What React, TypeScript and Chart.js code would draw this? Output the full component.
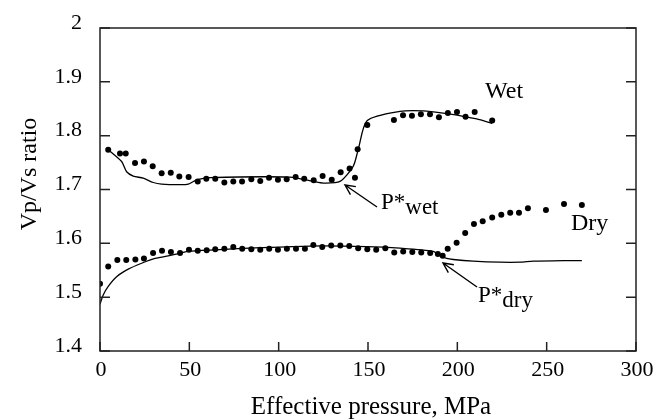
import React, { useEffect, useRef } from "react";
import { Chart, registerables } from "chart.js";

Chart.register(...registerables);

// Wet: measured points (dots)
const wetDotX = [4.6, 11.2, 14.4, 19.6, 24.6, 29.5, 34.5, 39.6, 44.4, 49.6, 54.7, 59.5, 64.5, 69.6, 74.6, 79.5, 84.7, 89.7, 94.6, 99.6, 104.5, 109.5, 114.3, 119.6, 124.6, 129.7, 134.7, 139.7, 142.7, 144.2, 149.6, 164.5, 169.6, 174.6, 179.6, 184.7, 189.7, 194.7, 199.8, 204.6, 209.7, 219.5];
const wetDotY = [1.774, 1.767, 1.767, 1.749, 1.752, 1.743, 1.730, 1.731, 1.724, 1.723, 1.715, 1.720, 1.720, 1.713, 1.715, 1.715, 1.719, 1.716, 1.722, 1.718, 1.719, 1.723, 1.720, 1.717, 1.725, 1.718, 1.732, 1.739, 1.722, 1.775, 1.820, 1.829, 1.838, 1.837, 1.840, 1.840, 1.834, 1.842, 1.844, 1.835, 1.844, 1.828];

// Wet: model curve
const wetLineX = [4.6, 12.1, 14.9, 18.6, 24.2, 29.8, 34.5, 44.8, 49.4, 54.1, 61.6, 106.3, 119.4, 125.0, 134.3, 141.7, 144.5, 149.6, 167.9, 180.9, 194.0, 203.3, 210.8, 219.5];
const wetLineY = [1.774, 1.752, 1.733, 1.725, 1.721, 1.713, 1.710, 1.709, 1.710, 1.718, 1.722, 1.723, 1.715, 1.712, 1.715, 1.743, 1.774, 1.828, 1.845, 1.846, 1.841, 1.836, 1.831, 1.823];

// Dry: measured points (dots)
const dryDotX = [0, 4.6, 9.7, 14.7, 19.8, 24.6, 29.7, 34.7, 39.7, 44.8, 49.8, 54.7, 59.7, 64.5, 69.6, 74.6, 79.6, 84.7, 89.7, 94.7, 99.6, 104.6, 109.7, 114.7, 119.4, 124.4, 129.4, 134.5, 139.5, 144.5, 149.6, 154.6, 159.7, 164.7, 169.7, 174.8, 179.8, 184.8, 189.1, 191.8, 194.6, 199.6, 204.4, 209.3, 214.2, 219.5, 224.6, 229.6, 234.5, 239.5, 249.6, 259.7, 269.7];
const dryDotY = [1.525, 1.557, 1.569, 1.569, 1.570, 1.572, 1.582, 1.586, 1.584, 1.582, 1.588, 1.586, 1.587, 1.589, 1.590, 1.593, 1.590, 1.589, 1.588, 1.590, 1.588, 1.590, 1.590, 1.590, 1.597, 1.593, 1.596, 1.596, 1.595, 1.591, 1.589, 1.588, 1.591, 1.583, 1.585, 1.584, 1.583, 1.582, 1.580, 1.577, 1.590, 1.601, 1.619, 1.636, 1.641, 1.648, 1.653, 1.657, 1.657, 1.665, 1.662, 1.673, 1.671];

// Dry: model curve
const dryLineX = [0, 1.8, 4.6, 9.3, 15.8, 23.3, 30.8, 40.1, 49.4, 64.4, 90.0, 117.5, 149.2, 167.9, 186.5, 190.3, 194.0, 197.7, 208.9, 223.8, 235.0, 242.5, 259.3, 269.7];
const dryLineY = [1.487, 1.504, 1.520, 1.538, 1.552, 1.563, 1.572, 1.578, 1.585, 1.588, 1.592, 1.595, 1.594, 1.591, 1.585, 1.577, 1.572, 1.570, 1.567, 1.565, 1.565, 1.567, 1.568, 1.568];

const xTicks = [0, 50, 100, 150, 200, 250, 300];
const yTicks = [1.4, 1.5, 1.6, 1.7, 1.8, 1.9, 2.0];

const zip = (xs: number[], ys: number[]) => xs.map((x, i) => ({ x, y: ys[i] }));

const SERIF = "'Liberation Serif', 'Times New Roman', serif";

const framePlugin = {
  id: "framePlugin",
  afterDraw(chart: any) {
    const ctx = chart.ctx;
    const { left, right, top, bottom } = chart.chartArea;
    const xs = chart.scales.x;
    const ys = chart.scales.y;
    ctx.save();
    ctx.strokeStyle = "#222";
    ctx.lineWidth = 1.5;
    ctx.strokeRect(left, top, right - left, bottom - top);
    ctx.beginPath();
    yTicks.forEach((v) => {
      const py = ys.getPixelForValue(v);
      ctx.moveTo(left, py);
      ctx.lineTo(left + 10, py);
      ctx.moveTo(right, py);
      ctx.lineTo(right - 10, py);
    });
    xTicks.forEach((v) => {
      const px = xs.getPixelForValue(v);
      ctx.moveTo(px, bottom);
      ctx.lineTo(px, bottom - 9);
    });
    ctx.stroke();

    // Axis titles
    ctx.fillStyle = "#000";
    ctx.font = `25px ${SERIF}`;
    ctx.textAlign = "center";
    ctx.textBaseline = "alphabetic";
    ctx.fillText("Effective pressure, MPa", 371, 414);
    ctx.font = `24px ${SERIF}`;
    ctx.save();
    ctx.translate(36, 174);
    ctx.rotate(-Math.PI / 2);
    ctx.fillText("Vp/Vs ratio", 0, 0);
    ctx.restore();

    // Labels
    ctx.textAlign = "left";
    ctx.font = `24px ${SERIF}`;
    ctx.fillText("Wet", 485, 98);
    ctx.fillText("Dry", 571, 230);

    const drawPStar = (x: number, y: number, sub: string, dy: number) => {
      ctx.font = `23px ${SERIF}`;
      ctx.fillText("P*", x, y);
      const w = ctx.measureText("P*").width;
      ctx.fillText(sub, x + w, y + dy);
    };
    drawPStar(381, 209, "wet", 5);
    drawPStar(478, 302, "dry", 5);

    // Arrows
    const arrow = (x1: number, y1: number, x2: number, y2: number) => {
      const a = Math.atan2(y2 - y1, x2 - x1);
      const h = 11;
      ctx.beginPath();
      ctx.moveTo(x1, y1);
      ctx.lineTo(x2, y2);
      ctx.moveTo(x2 - h * Math.cos(a - 0.45), y2 - h * Math.sin(a - 0.45));
      ctx.lineTo(x2, y2);
      ctx.lineTo(x2 - h * Math.cos(a + 0.45), y2 - h * Math.sin(a + 0.45));
      ctx.strokeStyle = "#000";
      ctx.lineWidth = 1.4;
      ctx.stroke();
    };
    arrow(377, 207, 345, 185);
    arrow(477, 287, 443, 263);
    ctx.restore();
  },
};

export default function App() {
  const ref = useRef<HTMLCanvasElement>(null);
  useEffect(() => {
    if (!ref.current) return;
    const lineDs = (label: string, data: any[]) => ({
      label,
      data,
      showLine: true,
      borderColor: "#000",
      borderWidth: 1.3,
      pointRadius: 0,
      tension: 0.25,
      fill: false,
    });
    const dotDs = (label: string, data: any[]) => ({
      label,
      data,
      showLine: false,
      pointRadius: 3,
      pointBackgroundColor: "#000",
      pointBorderColor: "#000",
      pointBorderWidth: 0,
    });
    const chart = new Chart(ref.current, {
      type: "scatter",
      data: {
        datasets: [
          lineDs("Wet model", zip(wetLineX, wetLineY)),
          dotDs("Wet", zip(wetDotX, wetDotY)),
          lineDs("Dry model", zip(dryLineX, dryLineY)),
          dotDs("Dry", zip(dryDotX, dryDotY)),
        ],
      },
      options: {
        animation: false,
        responsive: false,
        devicePixelRatio: 1,
        layout: { padding: { top: 28, right: 26, left: 0, bottom: 0 } },
        plugins: { legend: { display: false }, tooltip: { enabled: false } },
        scales: {
          x: {
            type: "linear",
            min: 0,
            max: 300,
            grid: { display: false },
            border: { display: false },
            afterFit: (s: any) => {
              s.height = 68;
            },
            afterBuildTicks: (s: any) => {
              s.ticks = xTicks.map((v) => ({ value: v }));
            },
            ticks: {
              color: "#000",
              font: { family: SERIF, size: 22 },
              padding: -2,
              maxRotation: 0,
              autoSkip: false,
              labelOffset: 1,
            },
          },
          y: {
            type: "linear",
            min: 1.4,
            max: 2,
            grid: { display: false },
            border: { display: false },
            afterFit: (s: any) => {
              s.width = 100;
            },
            afterBuildTicks: (s: any) => {
              s.ticks = yTicks.map((v) => ({ value: v }));
            },
            ticks: {
              color: "#000",
              font: { family: SERIF, size: 22 },
              padding: 10,
              labelOffset: -5,
              callback: (v: any) => String(Math.round(Number(v) * 10) / 10),
            },
          },
        },
      },
      plugins: [framePlugin],
    } as any);
    return () => chart.destroy();
  }, []);
  return (
    <div style={{ position: "absolute", left: 0, top: 0, width: 662, height: 419, background: "#fff" }}>
      <canvas ref={ref} width={662} height={419} />
    </div>
  );
}
